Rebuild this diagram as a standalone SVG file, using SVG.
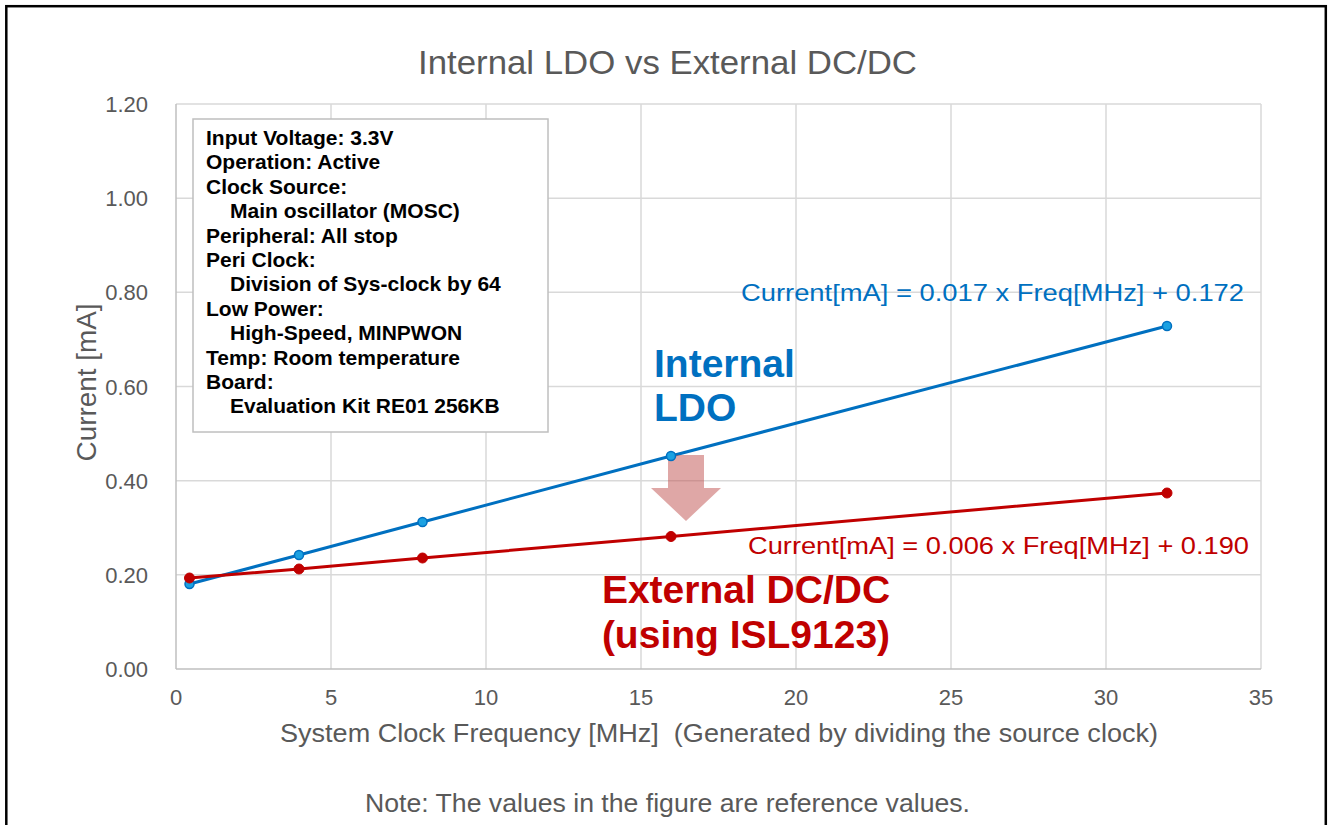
<svg xmlns="http://www.w3.org/2000/svg" width="1330" height="825" viewBox="0 0 1330 825">
<style>
.grid{stroke:#D9D9D9;stroke-width:1.5;fill:none}
.axis{stroke:#BFBFBF;stroke-width:1.5;fill:none}
.tick{font-family:"Liberation Sans",Arial,sans-serif;font-size:22px;fill:#595959}
.ytick{text-anchor:end}
.xtick{text-anchor:middle}
.lbl{font-family:"Liberation Sans",Arial,sans-serif;fill:#595959}
.leg{font-family:"Liberation Sans",Arial,sans-serif;font-weight:bold;font-size:21px;fill:#000}
.big{font-family:"Liberation Sans",Arial,sans-serif;font-weight:bold;font-size:39px}
.eq{font-family:"Liberation Sans",Arial,sans-serif;font-size:24px}
.bline{stroke:#0070C0;stroke-width:3;fill:none;stroke-linejoin:round}
.rline{stroke:#C00000;stroke-width:3;fill:none;stroke-linejoin:round}
.bm{fill:#1BA1E2;stroke:#0070C0;stroke-width:1.5}
.rm{fill:#C00000;stroke:#C00000;stroke-width:1}
</style>
<rect x="0" y="0" width="1330" height="825" fill="#FFFFFF"/>
<rect x="6.3" y="6.2" width="1319.5" height="840" fill="none" stroke="#000" stroke-width="2.5"/>

<g id="title">
<text class="lbl" x="667.5" y="74" font-size="34" text-anchor="middle" textLength="499" lengthAdjust="spacingAndGlyphs">Internal LDO vs External DC/DC</text>
</g>

<g id="plot-grid">
<line class="grid" x1="176" y1="104" x2="1261" y2="104"/>
<line class="grid" x1="176" y1="198.2" x2="1261" y2="198.2"/>
<line class="grid" x1="176" y1="292.3" x2="1261" y2="292.3"/>
<line class="grid" x1="176" y1="386.5" x2="1261" y2="386.5"/>
<line class="grid" x1="176" y1="480.7" x2="1261" y2="480.7"/>
<line class="grid" x1="176" y1="574.8" x2="1261" y2="574.8"/>
<line class="grid" x1="331" y1="104" x2="331" y2="669"/>
<line class="grid" x1="486" y1="104" x2="486" y2="669"/>
<line class="grid" x1="641" y1="104" x2="641" y2="669"/>
<line class="grid" x1="796" y1="104" x2="796" y2="669"/>
<line class="grid" x1="951" y1="104" x2="951" y2="669"/>
<line class="grid" x1="1106" y1="104" x2="1106" y2="669"/>
<line class="grid" x1="1261" y1="104" x2="1261" y2="669"/>
<line class="axis" x1="176" y1="104" x2="176" y2="669"/>
<line class="axis" x1="176" y1="669" x2="1261" y2="669"/>
</g>

<g id="y-ticks">
<text class="tick ytick" x="148" y="112">1.20</text>
<text class="tick ytick" x="148" y="206">1.00</text>
<text class="tick ytick" x="148" y="300">0.80</text>
<text class="tick ytick" x="148" y="394.5">0.60</text>
<text class="tick ytick" x="148" y="488.5">0.40</text>
<text class="tick ytick" x="148" y="583">0.20</text>
<text class="tick ytick" x="148" y="677">0.00</text>
</g>
<g id="x-ticks">
<text class="tick xtick" x="176" y="705">0</text>
<text class="tick xtick" x="331" y="705">5</text>
<text class="tick xtick" x="486" y="705">10</text>
<text class="tick xtick" x="641" y="705">15</text>
<text class="tick xtick" x="796" y="705">20</text>
<text class="tick xtick" x="951" y="705">25</text>
<text class="tick xtick" x="1106" y="705">30</text>
<text class="tick xtick" x="1261" y="705">35</text>
</g>

<g id="y-axis-title">
<text class="lbl" font-size="27" text-anchor="middle" transform="translate(96,382.5) rotate(-90)" x="0" y="0" textLength="158" lengthAdjust="spacingAndGlyphs">Current [mA]</text>
</g>
<g id="x-axis-title">
<text class="lbl" font-size="26" x="280" y="742" textLength="878" lengthAdjust="spacingAndGlyphs" xml:space="preserve">System Clock Frequency [MHz]  (Generated by dividing the source clock)</text>
</g>

<g id="legend-box">
<rect x="193" y="119" width="355" height="313" fill="#FFFFFF" stroke="#BFBFBF" stroke-width="1.5"/>
<text class="leg" x="206" y="145">Input Voltage: 3.3V</text>
<text class="leg" x="206" y="169.4">Operation: Active</text>
<text class="leg" x="206" y="193.8">Clock Source:</text>
<text class="leg" x="230" y="218.2">Main oscillator (MOSC)</text>
<text class="leg" x="206" y="242.6">Peripheral: All  stop</text>
<text class="leg" x="206" y="267">Peri Clock:</text>
<text class="leg" x="230" y="291.4">Division of Sys-clock  by 64</text>
<text class="leg" x="206" y="315.8">Low Power:</text>
<text class="leg" x="230" y="340.2">High-Speed, MINPWON</text>
<text class="leg" x="206" y="364.6">Temp: Room temperature</text>
<text class="leg" x="206" y="389">Board:</text>
<text class="leg" x="230" y="413.4">Evaluation Kit RE01 256KB</text>
</g>

<g id="connectors">
<polyline id="series-ldo" class="bline" points="189.5,584 299,555 422.5,522 671,456 1167,326"/>
<polyline id="series-dcdc" class="rline" points="189.5,578 299,569 422.5,558 671,536.5 1167,493"/>
</g>

<g id="arrow">
<polygon points="668,455 704,455 704,488 721,488 686,521 651,488 668,488" fill="#C0504D" fill-opacity="0.5"/>
</g>

<g id="markers-ldo">
<circle class="bm" cx="189.5" cy="584" r="4.5"/>
<circle class="bm" cx="299" cy="555" r="4.5"/>
<circle class="bm" cx="422.5" cy="522" r="4.5"/>
<circle class="bm" cx="671" cy="456" r="4.5"/>
<circle class="bm" cx="1167" cy="326" r="4.5"/>
</g>
<g id="markers-dcdc">
<circle class="rm" cx="189.5" cy="578" r="5"/>
<circle class="rm" cx="299" cy="569" r="5"/>
<circle class="rm" cx="422.5" cy="558" r="5"/>
<circle class="rm" cx="671" cy="536.5" r="5"/>
<circle class="rm" cx="1167" cy="493" r="5"/>
</g>

<g id="label-ldo">
<text class="big" fill="#0070C0" x="654" y="377" font-size="40">Internal</text>
<text class="big" fill="#0070C0" x="654" y="421" font-size="40">LDO</text>
</g>
<g id="label-dcdc">
<text class="big" fill="#C00000" x="746" y="603" text-anchor="middle">External DC/DC</text>
<text class="big" fill="#C00000" x="746" y="648" text-anchor="middle">(using ISL9123)</text>
</g>
<g id="eq-ldo">
<text class="eq" fill="#0070C0" x="741" y="301" textLength="503" lengthAdjust="spacingAndGlyphs">Current[mA] = 0.017 x Freq[MHz] + 0.172</text>
</g>
<g id="eq-dcdc">
<text class="eq" fill="#C00000" x="748" y="554" textLength="501" lengthAdjust="spacingAndGlyphs">Current[mA] = 0.006 x Freq[MHz] + 0.190</text>
</g>

<g id="note">
<text class="lbl" font-size="26" fill="#000000" x="365" y="812" textLength="605" lengthAdjust="spacingAndGlyphs">Note: The values in the figure are reference values.</text>
</g>
</svg>
